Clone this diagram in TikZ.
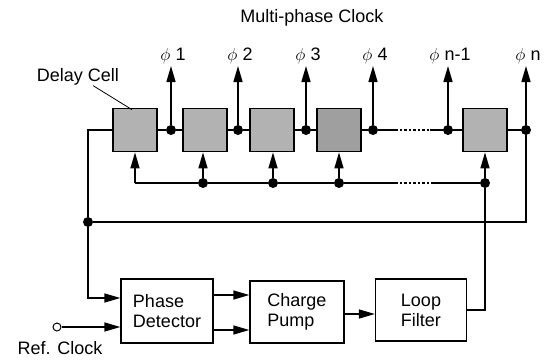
\documentclass[tikz,border=0pt]{standalone}
\usepackage{fontspec}
\setmainfont{Liberation Sans}
\usetikzlibrary{positioning,arrows.meta,calc}
\tikzset{
  cell/.style={draw=black, line width=1.7pt, fill=gray!60,
    minimum width=44pt, minimum height=43pt, inner sep=0pt},
  block/.style={draw=black, line width=1.3pt, align=left, inner sep=0pt,
    font=\fontsize{18}{20}\selectfont},
  txt/.style={inner sep=1pt, font=\fontsize{18}{20}\selectfont},
  wire/.style={line width=1.4pt},
  sig/.style={wire, -{Triangle[length=16pt,width=9pt]}},
  gap/.style={wire, dash pattern=on 2.5pt off 2pt},
  junct/.style={circle, fill=black, inner sep=0pt, minimum size=10pt},
  refpin/.style={circle, draw=black, line width=1pt, fill=white, inner sep=0pt, minimum size=8pt},
  phase/.style={above=1pt, xshift=2pt, inner sep=0pt, font=\fontsize{18}{20}\selectfont}
}

\begin{document}
\begin{tikzpicture}[x=1pt, y=-1pt]
  \useasboundingbox (0,0) rectangle (547,360);
  %%
  \node[txt] (title) at (312,18) {Multi-phase Clock};
  \node[txt] (dclab) at (78,77) {Delay Cell};
  \node[txt] (rclab) at (60,348) {Ref. Clock};
  %% delay line
  \node[cell] (c1) at (135,130) {};
  \node[cell] (c2) at (205,130) {};
  \node[cell] (c3) at (272,130) {};
  \node[cell, fill=gray!75] (c4) at (339,130) {};
  \node[cell] (cn) at (485,130) {};
  \node[junct] (d1) at (171,130) {};
  \node[junct] (d2) at (238,130) {};
  \node[junct] (d3) at (306,130) {};
  \node[junct] (d4) at (373,130) {};
  \node[junct] (d5) at (448,130) {};
  \node[junct] (d6) at (526,130) {};
  \coordinate (g1) at (395,130);
  \coordinate (g2) at (430,130);
  \draw[wire] (c1) -- (d1) -- (c2);
  \draw[wire] (c2) -- (d2) -- (c3);
  \draw[wire] (c3) -- (d3) -- (c4);
  \draw[wire] (c4) -- (d4) -- (g1);
  \draw[gap] (g1) -- (g2);
  \draw[wire] (g2) -- (d5) -- (cn);
  \draw[wire] (cn) -- (d6);
  \draw[line width=0.8pt] ([xshift=15pt,yshift=1pt]dclab.south) -- ([xshift=-3pt,yshift=-2pt]c1.north);
  %% phase outputs
  \foreach \d/\t in {d1/1, d2/2, d3/3, d4/4, d5/n-1, d6/n}{
    \coordinate (p\d) at (\d |- 0,66);
    \draw[sig] (\d) -- (p\d) node[phase] {$\phi$ \t};
  }
  %% control bus
  \coordinate (b1) at (135,183);
  \node[junct] (b2) at (203,183) {};
  \node[junct] (b3) at (273,183) {};
  \node[junct] (b4) at (339,183) {};
  \node[junct] (bn) at (485,183) {};
  \coordinate (g3) at (395,183);
  \coordinate (g4) at (433,183);
  \draw[wire] (b1) -- (b2) -- (b3) -- (b4) -- (g3);
  \draw[gap] (g3) -- (g4);
  \draw[wire] (g4) -- (bn);
  \draw[sig] (b1) -- (c1);
  \draw[sig] (b2) -- (b2 |- c2.south);
  \draw[sig] (b3) -- (b3 |- c3.south);
  \draw[sig] (b4) -- (b4 |- c4.south);
  \draw[sig] (bn) -- (bn |- cn.south);
  %% loop blocks
  \node[block, minimum width=92pt, minimum height=64pt] (pd) at (167,311) {Phase\\Detector};
  \node[block, minimum width=94pt, minimum height=62pt] (cp) at (297,312) {Charge\\Pump};
  \node[block, minimum width=91pt, minimum height=62pt] (lf) at (421,310) {Loop\\Filter};
  \coordinate (pdo1) at ([yshift=16pt]pd.east);
  \coordinate (pdo2) at ([yshift=-19pt]pd.east);
  \coordinate (cpo) at ([yshift=-2pt]cp.east);
  \draw[sig] (pdo1) -- (pdo1 -| cp.west);
  \draw[sig] (pdo2) -- (pdo2 -| cp.west);
  \draw[sig] (cpo) -- (cpo -| lf.west);
  \draw[wire] (lf.east) -- (lf.east -| bn) -- (bn);
  %% feedback
  \node[junct] (fb) at (88,222) {};
  \coordinate (fbr) at (526,222);
  \coordinate (fbt) at (88,130);
  \coordinate (fbb) at (88,298);
  \draw[wire] (d6) -- (fbr) -- (fb);
  \draw[wire] (fb) -- (fbt) -- (c1);
  \draw[sig] (fb) -- (fbb) -- (pd.west |- fbb);
  %% reference input
  \node[refpin] (rc) at (57,327) {};
  \draw[sig] (rc) -- (rc -| pd.west);
\end{tikzpicture}
\end{document}
